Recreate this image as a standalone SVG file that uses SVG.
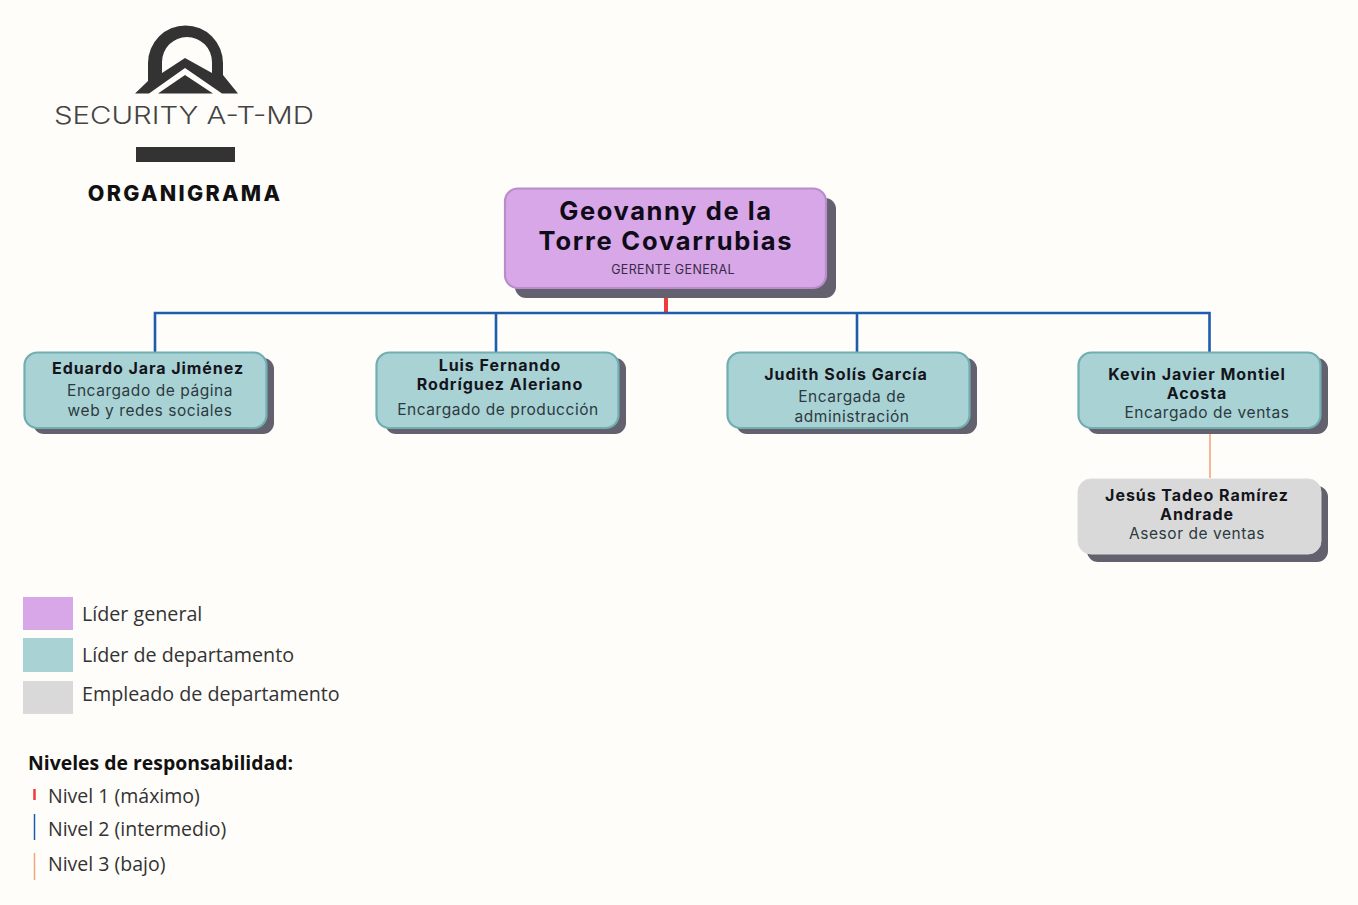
<svg xmlns="http://www.w3.org/2000/svg" width="1358" height="905" viewBox="0 0 1358 905">
<style>
.t{font-family:Inter,"Liberation Sans",sans-serif;text-anchor:middle}
.b{font-weight:700;font-size:16px;letter-spacing:.95px;fill:#14141c}
.r{font-size:15.5px;letter-spacing:.55px;fill:#2c3a40}
.l{font-family:"Open Sans","Noto Sans",sans-serif;font-size:19.7px;fill:#333}
.n{font-family:"Open Sans","Noto Sans",sans-serif;font-size:19.5px;fill:#333}
.sh{fill:#62616d}
.teal{fill:#a9d2d5;stroke:#70aeb1;stroke-width:2.2}
.gray{fill:#d9d9d9;stroke:#dcdcdc;stroke-width:1}
.c{fill:none;stroke:#1f5cab;stroke-width:2.6}
</style>
<rect width="1358" height="905" fill="#fefdfa"/>
<g id="logo">
<path fill="#333" fill-rule="evenodd" d="M148 75V63A37.500 37.500 0 0 1 223 63V75L238 93.500H222L185 68 149 93.500H135L148 81ZM162 73 185 58 212 73V62A25 25 0 0 0 162 62Z"/>
<path fill="#333" d="M185 75 213 93.500H158Z"/>
<text x="54" y="123.700" font-family="Inter,'Liberation Sans',sans-serif" font-size="24" font-weight="300" fill="#444" textLength="260" lengthAdjust="spacingAndGlyphs">SECURITY A-T-MD</text>
<rect x="136" y="147" width="99" height="15" fill="#333"/>
<text x="185" y="200.700" class="t" font-weight="800" font-size="21.500" letter-spacing="2.300" fill="#111">ORGANIGRAMA</text>
</g>
<g id="connectors">
<path d="M666 297V313" fill="none" stroke="#ef3b3b" stroke-width="4"/>
<path class="c" d="M155 352V313H1209.500V352M496 313V352M857 313V352"/>
<path d="M1210 434V478" fill="none" stroke="#f4b896" stroke-width="2"/>
</g>
<g id="node-gerente">
<rect class="sh" x="515" y="198" width="321" height="100" rx="11"/>
<rect x="505" y="188.500" width="321" height="99.500" rx="13" fill="#d7a7e7" stroke="#b98ccb" stroke-width="2.200"/>
<text class="t" x="666" y="220" font-weight="700" font-size="25.500" letter-spacing="1.600" fill="#0f0b18">Geovanny de la</text>
<text class="t" x="666" y="250" font-weight="700" font-size="25.500" letter-spacing="1.750" fill="#0f0b18">Torre Covarrubias</text>
<text class="t" x="673" y="274" font-size="12.500" letter-spacing=".35" fill="#3a2a48">GERENTE GENERAL</text>
</g>
<g id="node-eduardo">
<rect class="sh" x="33" y="358" width="241" height="76" rx="11"/>
<rect class="teal" x="24.500" y="352.500" width="242" height="75.500" rx="13"/>
<text class="t b" x="148" y="373.700">Eduardo Jara Jiménez</text>
<text class="t r" x="150" y="395.500">Encargado de página</text>
<text class="t r" x="150" y="415.500">web y redes sociales</text>
</g>
<g id="node-luis">
<rect class="sh" x="385" y="358" width="241" height="76" rx="11"/>
<rect class="teal" x="376.500" y="352.500" width="242" height="75.500" rx="13"/>
<text class="t b" x="500" y="370.500">Luis Fernando</text>
<text class="t b" x="500" y="389.500">Rodríguez Aleriano</text>
<text class="t r" x="498" y="414.500">Encargado de producción</text>
</g>
<g id="node-judith">
<rect class="sh" x="736" y="358" width="241" height="76" rx="11"/>
<rect class="teal" x="727.500" y="352.500" width="242" height="75.500" rx="13"/>
<text class="t b" x="846" y="379.700">Judith Solís García</text>
<text class="t r" x="852" y="401.500">Encargada de</text>
<text class="t r" x="852" y="421.700">administración</text>
</g>
<g id="node-kevin">
<rect class="sh" x="1087" y="358" width="241" height="76" rx="11"/>
<rect class="teal" x="1078.500" y="352.500" width="242" height="75.500" rx="13"/>
<text class="t b" x="1197" y="379.700">Kevin Javier Montiel</text>
<text class="t b" x="1197" y="398.700">Acosta</text>
<text class="t r" x="1207" y="418">Encargado de ventas</text>
</g>
<g id="node-jesus">
<rect class="sh" x="1087" y="486" width="241" height="76" rx="11"/>
<rect class="gray" x="1078" y="479" width="243" height="75" rx="13"/>
<text class="t b" x="1197" y="500.500">Jesús Tadeo Ramírez</text>
<text class="t b" x="1197" y="519.700">Andrade</text>
<text class="t r" x="1197" y="539">Asesor de ventas</text>
</g>
<g id="legend">
<rect x="23" y="597" width="50" height="33" fill="#d7a7e7"/>
<rect x="23" y="638" width="50" height="34" fill="#a9d2d5"/>
<rect x="23" y="681" width="50" height="33" fill="#d9d9d9"/>
<text class="l" x="82" y="620.700">Líder general</text>
<text class="l" x="82" y="661.500">Líder de departamento</text>
<text class="l" x="82" y="701">Empleado de departamento</text>
<text x="28" y="769.500" font-family="'Open Sans','Noto Sans',sans-serif" font-weight="700" font-size="19.400" fill="#111">Niveles de responsabilidad:</text>
<path d="M34.500 789V800" stroke="#ef3b3b" stroke-width="2.500"/>
<path d="M34.500 814V840" stroke="#1f5cab" stroke-width="1.500"/>
<path d="M34.500 853V880" stroke="#f0a97f" stroke-width="1.500"/>
<text class="n" x="48" y="802.700">Nivel 1 (máximo)</text>
<text class="n" x="48" y="836">Nivel 2 (intermedio)</text>
<text class="n" x="48" y="871">Nivel 3 (bajo)</text>
</g>
</svg>
